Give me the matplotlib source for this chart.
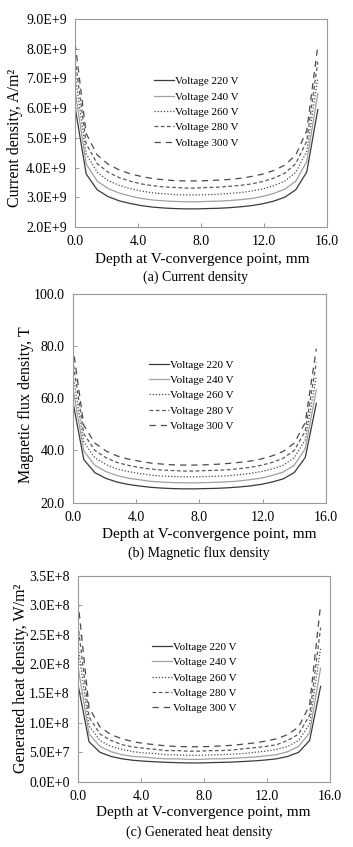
import numpy as np
import matplotlib
matplotlib.use("Agg")
import matplotlib.pyplot as plt
from matplotlib.ticker import FuncFormatter

plt.rcParams['font.family'] = ['Liberation Serif', 'DejaVu Serif']

# depth along the V-convergence line, mm
depth = [0.0, 0.7, 1.4, 2.1, 2.8, 3.5, 4.2, 4.9, 5.6, 6.3, 7.0, 7.7,
         8.4, 9.1, 9.8, 10.5, 11.2, 11.9, 12.6, 13.3, 14.0, 14.7, 15.4]

voltages = ['Voltage 220 V', 'Voltage 240 V', 'Voltage 260 V', 'Voltage 280 V', 'Voltage 300 V']

# (a) current density, x1e9 A/m^2
cur_220 = [6.00, 3.78, 3.25, 3.02, 2.88, 2.79, 2.72, 2.67, 2.64, 2.62, 2.61, 2.61,
           2.62, 2.63, 2.65, 2.68, 2.72, 2.78, 2.87, 3.00, 3.25, 3.85, 5.95]
cur_240 = [6.55, 4.12, 3.54, 3.29, 3.14, 3.04, 2.96, 2.91, 2.88, 2.86, 2.85, 2.85,
           2.86, 2.87, 2.89, 2.92, 2.96, 3.03, 3.13, 3.27, 3.54, 4.20, 6.49]
cur_260 = [7.08, 4.46, 3.84, 3.56, 3.40, 3.29, 3.21, 3.15, 3.12, 3.09, 3.08, 3.08,
           3.09, 3.10, 3.13, 3.16, 3.21, 3.28, 3.39, 3.54, 3.84, 4.54, 7.02]
cur_280 = [7.62, 4.80, 4.13, 3.84, 3.66, 3.54, 3.45, 3.39, 3.35, 3.33, 3.31, 3.31,
           3.33, 3.34, 3.37, 3.40, 3.45, 3.53, 3.64, 3.81, 4.13, 4.89, 7.56]
cur_300 = [8.16, 5.14, 4.42, 4.11, 3.92, 3.79, 3.70, 3.63, 3.59, 3.56, 3.55, 3.55,
           3.56, 3.58, 3.60, 3.64, 3.70, 3.78, 3.90, 4.08, 4.42, 5.24, 8.09]

# (b) magnetic flux density, T
mag_220 = [59.0, 36.5, 31.5, 29.3, 27.9, 27.0, 26.4, 25.9, 25.6, 25.4, 25.3, 25.3,
           25.4, 25.5, 25.7, 26.0, 26.4, 27.0, 27.9, 29.1, 31.5, 37.3, 58.0]
mag_240 = [64.3, 39.8, 34.3, 31.9, 30.4, 29.4, 28.8, 28.2, 27.9, 27.7, 27.6, 27.6,
           27.7, 27.8, 28.0, 28.3, 28.8, 29.4, 30.4, 31.7, 34.3, 40.7, 63.2]
mag_260 = [69.6, 43.1, 37.2, 34.6, 32.9, 31.9, 31.2, 30.6, 30.2, 30.0, 29.9, 29.9,
           30.0, 30.1, 30.3, 30.7, 31.2, 31.9, 32.9, 34.3, 37.2, 44.0, 68.4]
mag_280 = [74.9, 46.4, 40.0, 37.2, 35.4, 34.3, 33.5, 32.9, 32.5, 32.3, 32.1, 32.1,
           32.3, 32.4, 32.6, 33.0, 33.5, 34.3, 35.4, 37.0, 40.0, 47.4, 73.7]
mag_300 = [80.2, 49.6, 42.8, 39.8, 37.9, 36.7, 35.9, 35.2, 34.8, 34.5, 34.4, 34.4,
           34.5, 34.7, 35.0, 35.4, 35.9, 36.7, 37.9, 39.6, 42.8, 50.7, 78.9]

# (c) generated heat density, x1e8 W/m^2
heat_220 = [1.65, 0.68, 0.50, 0.43, 0.39, 0.365, 0.35, 0.34, 0.33, 0.325, 0.32, 0.32,
            0.325, 0.33, 0.335, 0.345, 0.355, 0.37, 0.39, 0.43, 0.50, 0.70, 1.62]
heat_240 = [1.96, 0.81, 0.60, 0.51, 0.46, 0.43, 0.42, 0.40, 0.39, 0.39, 0.38, 0.38,
            0.39, 0.39, 0.40, 0.41, 0.42, 0.44, 0.46, 0.51, 0.60, 0.83, 1.93]
heat_260 = [2.31, 0.95, 0.70, 0.60, 0.55, 0.51, 0.49, 0.48, 0.46, 0.455, 0.45, 0.45,
            0.455, 0.46, 0.47, 0.48, 0.50, 0.52, 0.55, 0.60, 0.70, 0.98, 2.27]
heat_280 = [2.67, 1.10, 0.81, 0.70, 0.63, 0.59, 0.57, 0.55, 0.53, 0.53, 0.52, 0.52,
            0.53, 0.53, 0.54, 0.56, 0.58, 0.60, 0.63, 0.70, 0.81, 1.13, 2.62]
heat_300 = [3.07, 1.26, 0.93, 0.80, 0.73, 0.68, 0.65, 0.63, 0.61, 0.60, 0.595, 0.595,
            0.60, 0.61, 0.62, 0.64, 0.66, 0.69, 0.73, 0.80, 0.93, 1.30, 3.01]

styles = [
    dict(color='#3a3a3a', lw=0.9, ls='-'),
    dict(color='#a0a0a0', lw=0.9, ls='-'),
    dict(color='#4a4a4a', lw=0.9, ls=(0, (1, 1.5))),
    dict(color='#5a5a5a', lw=0.9, ls=(0, (3, 2))),
    dict(color='#4a4a4a', lw=0.9, ls=(0, (5, 4))),
]


def sci_fmt(v, pos):
    if abs(v) < 1e-9:
        return '0.0E+0'
    e = int(np.floor(np.log10(abs(v)) + 1e-9))
    return '%.1fE+%d' % (v / 10 ** e, e)


fig = plt.figure(figsize=(3.53, 8.47), dpi=100)

panels = [
    dict(pos=[0.213, 0.732, 0.714, 0.2456], scale=1e9,
         series=[cur_220, cur_240, cur_260, cur_280, cur_300],
         ylim=(2e9, 9e9), yticks=np.arange(2e9, 9.1e9, 1e9), fmt=FuncFormatter(sci_fmt),
         ylabel='Current density, A/m²', ylab_xy=(-0.24, 0.43), xlab_xy=(0.504, -0.154),
         caption='(a) Current density', cap_xy=(0.555, 1 - 277 / 847),
         leg=(0.29, 0.75)),
    dict(pos=[0.206, 0.4065, 0.717, 0.2468], scale=1.0,
         series=[mag_220, mag_240, mag_260, mag_280, mag_300],
         ylim=(20, 100), yticks=np.arange(20, 101, 20), fmt=FuncFormatter(lambda v, p: '%.1f' % v),
         ylabel='Magnetic flux density, T', ylab_xy=(-0.186, 0.469), xlab_xy=(0.539, -0.153),
         caption='(b) Magnetic flux density', cap_xy=(0.564, 1 - 553 / 847),
         leg=(0.28, 0.71)),
    dict(pos=[0.221, 0.077, 0.714, 0.2432], scale=1e8,
         series=[heat_220, heat_240, heat_260, heat_280, heat_300],
         ylim=(0, 3.5e8), yticks=np.arange(0, 3.6e8, 0.5e8), fmt=FuncFormatter(sci_fmt),
         ylabel='Generated heat density, W/m²', ylab_xy=(-0.225, 0.5), xlab_xy=(0.496, -0.150),
         caption='(c) Generated heat density', cap_xy=(0.565, 1 - 832 / 847),
         leg=(0.27, 0.705)),
]

for p in panels:
    ax = fig.add_axes(p['pos'])
    for s, lab, st in zip(p['series'], voltages, styles):
        ax.plot(depth, np.array(s) * p['scale'], label=lab, **st)
    ax.set_xlim(0, 16)
    ax.set_ylim(*p['ylim'])
    ax.set_xticks([0, 4, 8, 12, 16])
    ax.xaxis.set_major_formatter(FuncFormatter(lambda v, pos: '%.1f' % v))
    ax.set_yticks(p['yticks'])
    ax.yaxis.set_major_formatter(p['fmt'])
    ax.tick_params(direction='in', length=3, width=0.6, color='#888888', labelsize=10, pad=6)
    for sp in ax.spines.values():
        sp.set_color('#999999')
        sp.set_linewidth(0.8)
    ax.set_xlabel('Depth at V-convergence point, mm', fontsize=11)
    ax.xaxis.set_label_coords(*p['xlab_xy'])
    ax.xaxis.label.set_va('center')
    ax.set_ylabel(p['ylabel'], fontsize=11.5)
    ax.yaxis.set_label_coords(*p['ylab_xy'])
    ax.yaxis.label.set_va('center')
    ax.legend(loc='upper left', bbox_to_anchor=p['leg'], frameon=False, fontsize=8,
              handlelength=1.8, handletextpad=0.1, labelspacing=0.5, borderpad=0)
    fig.text(p['cap_xy'][0], p['cap_xy'][1], p['caption'], ha='center', va='center', fontsize=10)

fig.savefig('out.png', dpi=100)
